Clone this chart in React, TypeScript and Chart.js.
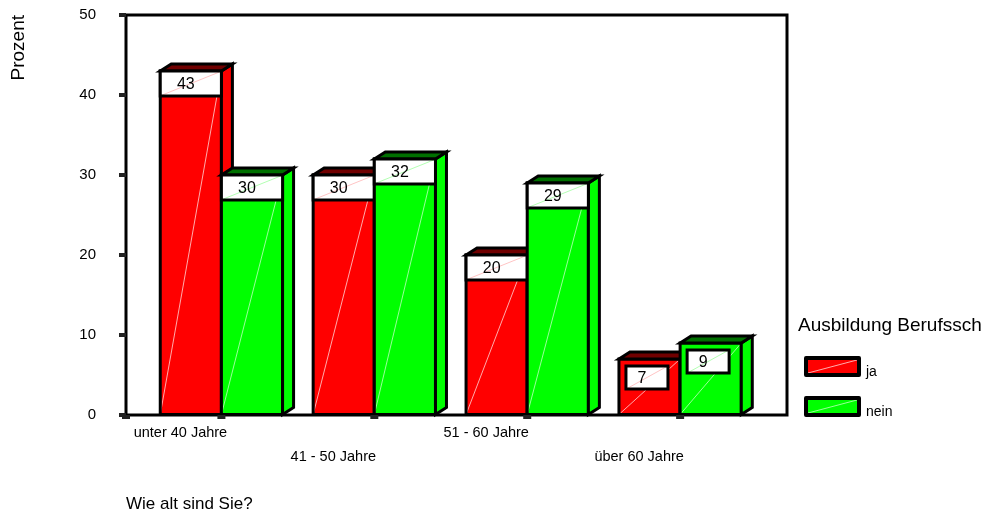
import React, { useEffect, useRef } from 'react';
import { Chart, registerables } from 'chart.js';

Chart.register(...registerables);

// ---------- data ----------
const categories = ['unter 40 Jahre', '41 - 50 Jahre', '51 - 60 Jahre', 'über 60 Jahre'];
const jaValues = [43, 30, 20, 7];
const neinValues = [30, 32, 29, 9];
const seriesNames = ['ja', 'nein'];
const yTickStep = 10;
const yMax = 50;
const xTitle = 'Wie alt sind Sie?';
const yTitle = 'Prozent';
const legendTitle = 'Ausbildung Berufssch';

// ---------- styles ----------
const FONT = '"Liberation Sans", Arial, sans-serif';
const COLORS = ['#ff0000', '#00ff00'];
const TOP_COLORS = ['#700000', '#007000'];
const DIAG_COLORS = ['rgba(255,190,190,0.9)', 'rgba(170,255,170,0.9)'];
const DX = 11;
const DY = 7;

function drawBar(ctx: CanvasRenderingContext2D, x0: number, x1: number, y: number, base: number, d: number, value: number) {
  const w = x1 - x0;
  ctx.lineJoin = 'miter';
  // front
  ctx.fillStyle = COLORS[d];
  ctx.fillRect(x0, y, w, base - y);
  ctx.strokeStyle = DIAG_COLORS[d];
  ctx.lineWidth = 1;
  ctx.beginPath();
  ctx.moveTo(x0, base);
  ctx.lineTo(x1, y);
  ctx.stroke();
  ctx.strokeStyle = '#000';
  ctx.lineWidth = 3;
  ctx.strokeRect(x0, y, w, base - y);
  // side
  ctx.beginPath();
  ctx.moveTo(x1, y);
  ctx.lineTo(x1 + DX, y - DY);
  ctx.lineTo(x1 + DX, base - DY);
  ctx.lineTo(x1, base);
  ctx.closePath();
  ctx.fillStyle = COLORS[d];
  ctx.fill();
  ctx.stroke();
  // top
  ctx.beginPath();
  ctx.moveTo(x0, y);
  ctx.lineTo(x0 + DX, y - DY);
  ctx.lineTo(x1 + DX, y - DY);
  ctx.lineTo(x1, y);
  ctx.closePath();
  ctx.fillStyle = TOP_COLORS[d];
  ctx.fill();
  ctx.stroke();
  // label box
  let bx = x0, by = y, bw = w, bh = 25;
  if (value < 10) {
    bx = x0 + 7;
    by = y + 7;
    bw = 42;
    bh = 23;
  }
  ctx.fillStyle = '#fff';
  ctx.fillRect(bx, by, bw, bh);
  ctx.strokeStyle = DIAG_COLORS[d];
  ctx.lineWidth = 1;
  ctx.beginPath();
  ctx.moveTo(bx + 2, by + bh - 1);
  ctx.lineTo(bx + bw - 2, by + 1);
  ctx.stroke();
  ctx.strokeStyle = '#000';
  ctx.lineWidth = 3;
  ctx.strokeRect(bx, by, bw, bh);
  ctx.fillStyle = '#000';
  ctx.font = `16px ${FONT}`;
  ctx.textAlign = 'center';
  ctx.textBaseline = 'middle';
  ctx.fillText(String(value), bx + bw / 2 - 5, by + bh / 2 + 1);
}

const threeDPlugin = {
  id: 'threeD',
  afterDatasetsDraw(chart: any) {
    const ctx: CanvasRenderingContext2D = chart.ctx;
    const area = chart.chartArea;
    const xScale = chart.scales.x;
    const yScale = chart.scales.y;
    ctx.save();
    for (let i = 0; i < categories.length; i++) {
      chart.data.datasets.forEach((ds: any, d: number) => {
        const el = chart.getDatasetMeta(d).data[i];
        const { x, y, base, width } = el.getProps(['x', 'y', 'base', 'width'], true);
        drawBar(ctx, x - width / 2, x + width / 2, y, base, d, ds.data[i].y);
      });
    }
    // frame
    ctx.strokeStyle = '#000';
    ctx.lineWidth = 3;
    ctx.lineJoin = 'miter';
    ctx.strokeRect(area.left, area.top, area.right - area.left, area.bottom - area.top);
    // y tick marks
    ctx.fillStyle = '#222';
    yScale.ticks.forEach((t: any) => {
      const ty = yScale.getPixelForValue(t.value);
      ctx.fillRect(area.left - 7, ty - 2, 7, 4);
    });
    // x tick marks
    const tickXs = [area.left, ...categories.map((_, i) => xScale.getPixelForValue(i))];
    tickXs.forEach((tx) => ctx.fillRect(tx - 4, area.bottom, 8, 4));
    // x category labels (staggered)
    ctx.fillStyle = '#000';
    ctx.font = `14.5px ${FONT}`;
    ctx.textAlign = 'center';
    ctx.textBaseline = 'middle';
    categories.forEach((c, i) => {
      const cx = xScale.getPixelForValue(i) - 41;
      const cy = area.bottom + (i % 2 === 0 ? 18 : 42);
      ctx.fillText(c, cx, cy);
    });
    // legend
    const lx = area.right + 11;
    ctx.textAlign = 'left';
    ctx.font = `19px ${FONT}`;
    ctx.fillText(legendTitle, lx, area.bottom - 89);
    seriesNames.forEach((name, d) => {
      const bx = area.right + 19;
      const by = area.bottom - 57 + d * 40;
      const bw = 53, bh = 17;
      ctx.fillStyle = COLORS[d];
      ctx.fillRect(bx, by, bw, bh);
      ctx.strokeStyle = DIAG_COLORS[d];
      ctx.lineWidth = 1;
      ctx.beginPath();
      ctx.moveTo(bx + 2, by + bh - 2);
      ctx.lineTo(bx + bw - 2, by + 2);
      ctx.stroke();
      ctx.strokeStyle = '#000';
      ctx.lineWidth = 4;
      ctx.lineJoin = 'round';
      ctx.strokeRect(bx, by, bw, bh);
      ctx.fillStyle = '#000';
      ctx.font = `14px ${FONT}`;
      ctx.textBaseline = 'alphabetic';
      ctx.fillText(name, bx + bw + 7, by + bh + 1);
    });
    ctx.restore();
  },
};

export default function App() {
  const canvasRef = useRef<HTMLCanvasElement | null>(null);

  useEffect(() => {
    if (!canvasRef.current) return;
    Chart.defaults.font.family = FONT;
    Chart.defaults.color = '#000';
    const chart = new Chart(canvasRef.current, {
      type: 'bar',
      data: {
        datasets: [
          {
            label: seriesNames[0],
            data: jaValues.map((v, i) => ({ x: i, y: v })),
            backgroundColor: COLORS[0],
            borderWidth: 0,
            categoryPercentage: 0.8,
            barPercentage: 1.0,
          },
          {
            label: seriesNames[1],
            data: neinValues.map((v, i) => ({ x: i, y: v })),
            backgroundColor: COLORS[1],
            borderWidth: 0,
            categoryPercentage: 0.8,
            barPercentage: 1.0,
          },
        ],
      },
      options: {
        responsive: false,
        animation: false,
        devicePixelRatio: 1,
        layout: { padding: { left: 0, right: 201, top: 15, bottom: 0 } },
        plugins: {
          legend: { display: false },
          tooltip: { enabled: false },
        },
        scales: {
          x: {
            type: 'linear',
            min: -0.624,
            max: 3.699,
            offset: false,
            grid: { display: false, offset: false },
            border: { display: false },
            ticks: { display: false },
            afterBuildTicks: (s: any) => {
              s.ticks = categories.map((_, i) => ({ value: i }));
            },
            title: {
              display: true,
              text: xTitle,
              align: 'start',
              font: { size: 17 },
              padding: { top: 0, bottom: 0 },
              color: '#000',
            },
            afterFit: (s: any) => {
              s.height = 100;
            },
          },
          y: {
            min: 0,
            max: yMax,
            ticks: { stepSize: yTickStep, font: { size: 15 }, padding: 5, color: '#000' },
            grid: {
              drawOnChartArea: false,
              drawTicks: true,
              tickLength: 25,
              tickWidth: 0,
              tickColor: 'rgba(0,0,0,0)',
            },
            border: { display: false },
            title: {
              display: true,
              text: yTitle,
              align: 'end',
              font: { size: 19 },
              padding: { top: 7, bottom: 0 },
              color: '#000',
            },
            afterFit: (s: any) => {
              s.width = 126;
            },
          },
        },
      },
      plugins: [threeDPlugin],
    } as any);
    return () => chart.destroy();
  }, []);

  return (
    <div style={{ position: 'absolute', left: 0, top: 0, width: 988, height: 515, background: '#fff' }}>
      <canvas ref={canvasRef} width={988} height={515} />
    </div>
  );
}
